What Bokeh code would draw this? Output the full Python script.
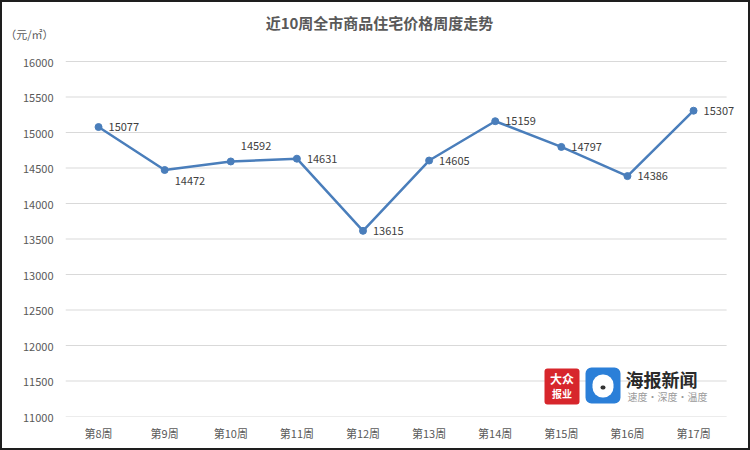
from bokeh.plotting import figure
from bokeh.models import ColumnDataSource, Label, BoxAnnotation, FixedTicker
from bokeh.core.properties import value
from bokeh.embed import file_html
from bokeh.resources import INLINE

weeks = ["第8周", "第9周", "第10周", "第11周", "第12周", "第13周", "第14周", "第15周", "第16周", "第17周"]
prices = [15077, 14472, 14592, 14631, 13615, 14605, 15159, 14797, 14386, 15307]
y_ticks = [11000, 11500, 12000, 12500, 13000, 13500, 14000, 14500, 15000, 15500, 16000]
title_text = "近10周全市商品住宅价格周度走势"
unit_text = "（元/㎡）"

# label vertical nudges in screen pixels (styling only)
label_dy = [0, 11, -15, 0, 0, 0, 0, 0, 0, 0]

FONT = "Noto Sans CJK SC"
LINE = "#4a7ebb"

# layout: the 11000..16000 span occupies 355 px; frame extends up to the top edge
PX = (y_ticks[-1] - y_ticks[0]) / 355.0
y_top = y_ticks[-1] + 59 * PX
unit_y = y_ticks[-1] + 28 * PX

xs = list(range(len(weeks)))
src = ColumnDataSource(dict(x=xs, y=prices, t=[str(v) for v in prices], dy=label_dy))

p = figure(width=750, height=450, x_range=(-0.5, len(weeks) - 0.29), y_range=(y_ticks[0], y_top),
           output_backend="svg", toolbar_location=None,
           min_border_left=62, min_border_right=12, min_border_top=0, min_border_bottom=36)
p.styles = {"border": "2px solid #1e1e1e", "box-sizing": "border-box"}
p.outline_line_color = None
p.background_fill_color = "white"
p.border_fill_color = "white"

p.xgrid.grid_line_color = None
p.ygrid.grid_line_color = None
p.xaxis.ticker = FixedTicker(ticks=xs)
p.xaxis.major_label_overrides = {i: w for i, w in zip(xs, weeks)}
p.yaxis.ticker = FixedTicker(ticks=y_ticks + [unit_y])
p.yaxis.major_label_overrides = {unit_y: unit_text}

# horizontal gridlines spanning the category bands only
n = len(weeks)
p.segment(x0=[-0.5] * len(y_ticks), x1=[n - 0.5] * len(y_ticks), y0=y_ticks, y1=y_ticks,
          line_color="#d9d9d9", line_width=1)

for ax in (p.xaxis, p.yaxis):
    ax.major_tick_line_color = None
    ax.minor_tick_line_color = None
    ax.axis_line_color = None
    ax.major_label_text_color = "#595959"
    ax.major_label_text_font = FONT
    ax.major_label_text_font_size = "11px"
p.yaxis.major_label_standoff = 6
p.xaxis.major_label_standoff = 2

p.line("x", "y", source=src, line_color=LINE, line_width=2.5)
p.scatter("x", "y", source=src, size=7, fill_color=LINE, line_color=LINE)
p.text("x", "y", text="t", source=src, x_offset=10, y_offset="dy",
       text_font=value(FONT), text_font_size="11px", text_color="#404040",
       text_baseline="middle", text_align="left")

def box(l, r, b, t, color, radius):
    p.add_layout(BoxAnnotation(left=l, right=r, bottom=b, top=t,
                               left_units="screen", right_units="screen",
                               bottom_units="screen", top_units="screen",
                               fill_color=color, fill_alpha=1, line_color=None,
                               border_radius=radius, level="overlay"))

def lbl(x, y, text, size, color, bold=True, align="center"):
    p.add_layout(Label(x=x, y=y, x_units="screen", y_units="screen", text=text,
                       text_font=FONT, text_font_size=size,
                       text_font_style="bold" if bold else "normal",
                       text_color=color, text_align=align, text_baseline="middle",
                       level="overlay"))

# title (frame-relative screen coords)
lbl(314, 394, title_text, "15px", "#595959")

# logo decoration (frame-relative screen coords)
box(479, 514, 12, 48, "#d7262c", 3)
lbl(496.5, 38, "大众", "12px", "white")
lbl(496.5, 23, "报业", "10px", "white")
box(520, 555, 13, 49, "#2b7fd8", 6)
box(527, 548, 19, 42, "white", 10)
box(535, 540, 27, 31, "#333333", 2)
lbl(560, 38, "海报新闻", "18px", "#2a2a2a", align="left")
lbl(562, 20, "速度·深度·温度", "10px", "#9a9a9a", bold=False, align="left")

open("out.html", "w").write(file_html(p, INLINE))
